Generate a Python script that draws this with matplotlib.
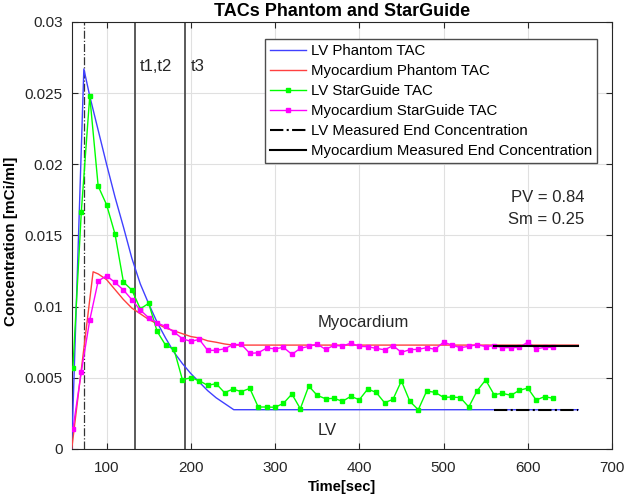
import matplotlib
matplotlib.use("Agg")
import matplotlib.pyplot as plt

plt.rcParams['font.family'] = ['Liberation Sans', 'DejaVu Sans']

# ---- data ----
lv_ph_t = [58.6, 73, 80, 90, 100, 110, 120, 130, 140, 150, 160, 170, 180, 190, 200,
           210, 220, 230, 240, 251, 660]
lv_ph_c = [0.0, 0.0267, 0.0248, 0.0224, 0.0200, 0.0177, 0.0156, 0.0134, 0.0116, 0.0102,
           0.0089, 0.0078, 0.0068, 0.0060, 0.0053, 0.0047, 0.0041, 0.0036, 0.0032,
           0.00276, 0.00276]

myo_ph_t = [58.6, 84, 90, 100, 110, 120, 130, 140, 150, 160, 170, 180, 190, 200, 210,
            220, 230, 240, 250, 660]
myo_ph_c = [0.0, 0.01245, 0.0123, 0.0119, 0.0112, 0.0105, 0.0099, 0.0095, 0.0091,
            0.0088, 0.0085, 0.0083, 0.0081, 0.0079, 0.0078, 0.0076, 0.0075, 0.00738,
            0.0073, 0.0073]

sg_t = list(range(60, 640, 10))
lv_sg_c = [0.00567, 0.01667, 0.0248, 0.01847, 0.01716, 0.0151, 0.01173, 0.01117,
           0.00985, 0.01023, 0.00826, 0.0073, 0.0070, 0.00487, 0.0050, 0.0048,
           0.00447, 0.00459, 0.00396, 0.00421, 0.00403, 0.00426, 0.00295, 0.00295,
           0.00293, 0.00321, 0.00386, 0.00283, 0.00442, 0.00377, 0.00353, 0.00356,
           0.00335, 0.0037, 0.00346, 0.00421, 0.00398, 0.00325, 0.00349, 0.00478,
           0.00335, 0.00276, 0.00407, 0.00398, 0.00363, 0.00365, 0.00361, 0.00295,
           0.0041, 0.00485, 0.00382, 0.00391, 0.00377, 0.00412, 0.00428, 0.00344,
           0.00368, 0.00356]
myo_sg_c = [0.00138, 0.00543, 0.00906, 0.0118, 0.01217, 0.0117, 0.01117, 0.01049,
            0.00976, 0.00922, 0.00885, 0.00862, 0.00822, 0.00775, 0.00756, 0.0077,
            0.00693, 0.00693, 0.00704, 0.00733, 0.00735, 0.00672, 0.00676, 0.00709,
            0.00704, 0.00714, 0.00665, 0.00707, 0.00721, 0.00737, 0.0070, 0.00728,
            0.00723, 0.00744, 0.00721, 0.00719, 0.00707, 0.00697, 0.00726, 0.00679,
            0.00698, 0.0070, 0.00712, 0.0070, 0.00751, 0.0073, 0.00712, 0.00721,
            0.00733, 0.00719, 0.00726, 0.00712, 0.00712, 0.00714, 0.00751, 0.00704,
            0.00714, 0.00714]

end_t = [560, 660]
lv_end_c = [0.00276, 0.00276]
myo_end_c = [0.00723, 0.00723]

t_peak_line = 73.5
t_lines = [133.9, 193.5]
t_labels = ['t1,t2', 't3']

xticks = [100, 200, 300, 400, 500, 600, 700]
yticks = [0, 0.005, 0.01, 0.015, 0.02, 0.025, 0.03]
ytick_labels = ['0', '0.005', '0.01', '0.015', '0.02', '0.025', '0.03']

# ---- figure ----
fig = plt.figure(figsize=(6.28, 5.01), dpi=100)
ax = fig.add_axes([0.1142, 0.1038, 0.8603, 0.8523])

dark = (0.15, 0.15, 0.15)

ax.plot(lv_ph_t, lv_ph_c, color=(0.25, 0.25, 1.0), lw=1.0, label='LV Phantom TAC', zorder=3)
ax.plot(myo_ph_t, myo_ph_c, color=(1.0, 0.25, 0.25), lw=1.0, label='Myocardium Phantom TAC', zorder=3)
ax.plot(sg_t, lv_sg_c, color='#00ff00', lw=1.0, marker='s', ms=2.6, mec='#00ff00',
        label='LV StarGuide TAC', zorder=4)
ax.plot(sg_t, myo_sg_c, color='#ff00ff', lw=1.0, marker='s', ms=2.6, mec='#ff00ff',
        label='Myocardium StarGuide TAC', zorder=4)
ax.plot(end_t, lv_end_c, color='black', lw=1.5, ls='-.', label='LV Measured End Concentration', zorder=5)
ax.plot(end_t, myo_end_c, color='black', lw=1.5, ls='-', label='Myocardium Measured End Concentration', zorder=5)

ax.axvline(t_peak_line, color=(0.2, 0.2, 0.2), lw=0.9, ls='-.', zorder=2)
for tl in t_lines:
    ax.axvline(tl, color=(0.3, 0.3, 0.3), lw=1.3, zorder=2)

ax.text(t_lines[0] + 5.5, 0.0269, t_labels[0], fontsize=12, va='center', ha='left', color=dark)
ax.text(t_lines[1] + 7, 0.0269, t_labels[1], fontsize=12, va='center', ha='left', color=dark)
ax.text(350, 0.00887, 'Myocardium', fontsize=12, va='center', ha='left', color=dark)
ax.text(350, 0.00133, 'LV', fontsize=12, va='center', ha='left', color=dark)
ax.text(580, 0.0177, 'PV = 0.84', fontsize=12, va='center', ha='left', color=dark)
ax.text(577, 0.0161, 'Sm = 0.25', fontsize=12, va='center', ha='left', color=dark)

ax.set_xlim(58.6, 700)
ax.set_ylim(0, 0.03)
ax.set_xticks(xticks)
ax.set_yticks(yticks)
ax.set_yticklabels(ytick_labels)
ax.tick_params(direction='in', top=True, right=True, labelsize=11, colors=dark,
               length=4, width=0.8)
ax.tick_params(axis='x', pad=9)
ax.tick_params(axis='y', pad=6.5)
ax.grid(True, color=(0.88, 0.88, 0.88), lw=0.8)
ax.set_axisbelow(True)
for s in ax.spines.values():
    s.set_color(dark)
    s.set_linewidth(0.8)

ax.set_title('TACs Phantom and StarGuide', fontsize=13, fontweight='bold', pad=4, color='black')
ax.set_xlabel('Time[sec]', fontsize=10.5, fontweight='bold', labelpad=3, color='black')
ax.set_ylabel('Concentration [mCi/ml]', fontsize=11, fontweight='bold', color='black')
ax.yaxis.set_label_coords(-0.100, 0.487)

leg = ax.legend(loc='upper right', bbox_to_anchor=(0.9717, 0.960), borderaxespad=0,
                fontsize=10.8, frameon=True, fancybox=False, handlelength=2.4,
                handletextpad=0.3, labelspacing=0.40, borderpad=0.32)
leg.get_frame().set_edgecolor((0.3, 0.3, 0.3))
leg.get_frame().set_linewidth(1.0)
leg.get_frame().set_alpha(1.0)

fig.savefig('out.png', dpi=100)
